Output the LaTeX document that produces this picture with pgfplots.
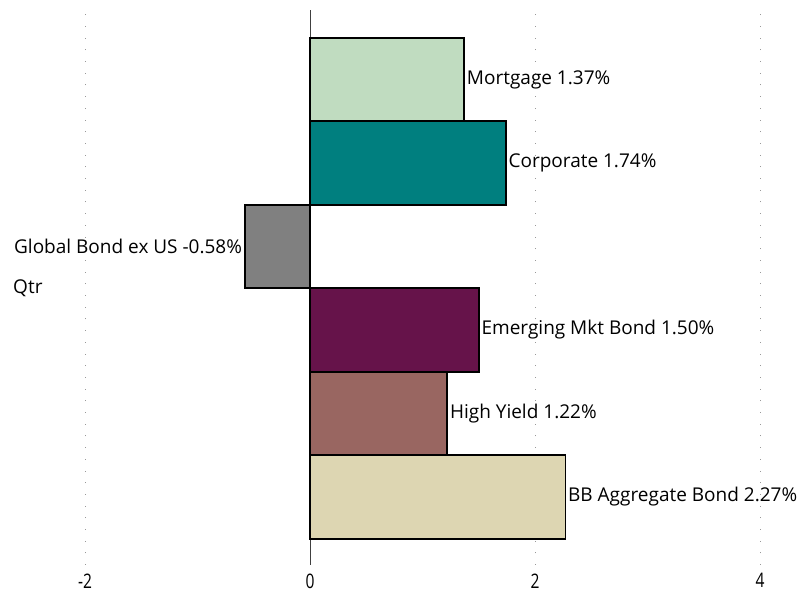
\documentclass[border=0pt]{standalone}
\usepackage{pgfplots}
\pgfplotsset{compat=1.18}
\usepackage{fontspec}
\setmainfont{Open Sans}
\definecolor{cMort}{RGB}{192,220,192}
\definecolor{cCorp}{RGB}{0,127,127}
\definecolor{cGlob}{RGB}{128,128,128}
\definecolor{cEmer}{RGB}{102,19,74}
\definecolor{cHigh}{RGB}{153,102,97}
\definecolor{cBB}{RGB}{221,214,178}
\begin{document}
\begin{tikzpicture}
\begin{axis}[
  scale only axis, width=798pt, height=555pt,
  xmin=-2.756, xmax=4.338, ymin=0.186, ymax=6.832,
  axis line style={draw=none},
  xtick={-2,2,4}, ytick=\empty,
  extra x ticks={0},
  extra x tick style={grid style={solid, black!75, line width=0.8pt}},
  major tick length=0pt,
  xmajorgrids,
  grid style={gray!80, line width=0.8pt, dash pattern=on 0.8pt off 10.9pt},
  xticklabel style={font=\fontsize{20}{22}\selectfont, xscale=0.78, yshift=-5pt},
  /pgf/number format/assume math mode=true,
  xbar, bar width=1, bar shift=0pt,
  clip=false,
  every axis plot/.append style={draw=black, line width=1.6pt},
  nodes near coords style={font=\fontsize{19}{22}\selectfont, text=black, inner sep=2pt},
]
\addplot[fill=cMort, nodes near coords={Mortgage 1.37\%}] coordinates {(1.37,6)};
\addplot[fill=cCorp, nodes near coords={Corporate 1.74\%}] coordinates {(1.74,5)};
\addplot[fill=cGlob, nodes near coords={Global Bond ex US -0.58\%}, nodes near coords style={anchor=east}] coordinates {(-0.58,4)};
\addplot[fill=cEmer, nodes near coords={Emerging Mkt Bond 1.50\%}] coordinates {(1.50,3)};
\addplot[fill=cHigh, nodes near coords={High Yield 1.22\%}] coordinates {(1.22,2)};
\addplot[fill=cBB, nodes near coords={BB Aggregate Bond 2.27\%}] coordinates {(2.27,1)};
\node[anchor=west, font=\fontsize{19}{22}\selectfont, inner sep=0pt] at (axis cs:-2.64,3.50) {Qtr};
\end{axis}
\pgfresetboundingbox
\useasboundingbox ([yshift=-33pt]current axis.south west) rectangle ([yshift=10pt]current axis.north east);
\end{tikzpicture}
\end{document}
